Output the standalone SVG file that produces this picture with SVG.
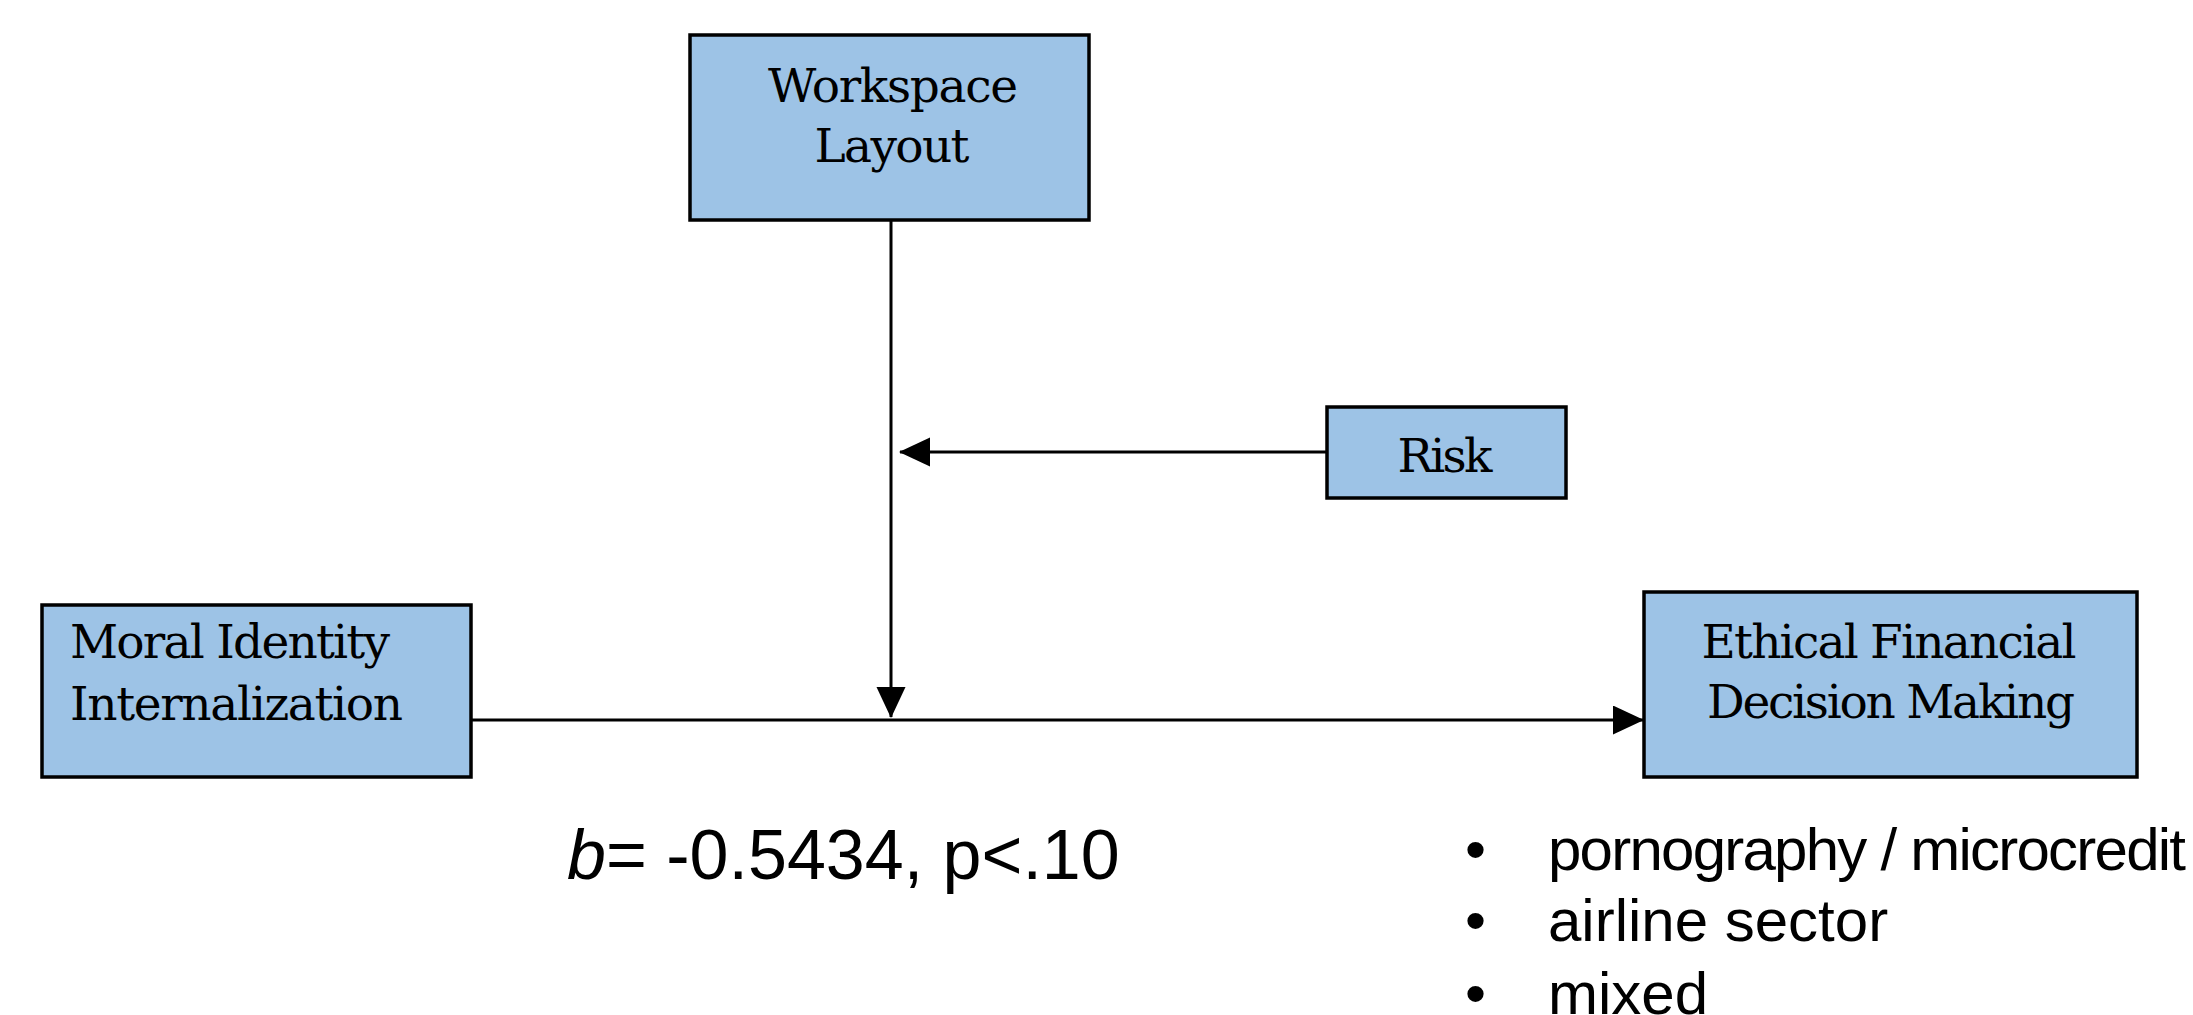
<svg xmlns="http://www.w3.org/2000/svg" width="2193" height="1015" viewBox="0 0 2193 1015">
  <style>
    .box { fill: #9DC3E6; stroke: #000; stroke-width: 3.5; }
    .lbl { font-family: "DejaVu Serif", "Liberation Serif", serif; font-size: 47px; fill: #000; }
    .mid { text-anchor: middle; }
    .conn { stroke: #000; stroke-width: 3; fill: none; }
    .sans { font-family: "Liberation Sans", Arial, sans-serif; fill: #000; }
  </style>
  <defs>
    <marker id="arrow" markerUnits="userSpaceOnUse" markerWidth="32" markerHeight="30" refX="30" refY="14.5" orient="auto">
      <path d="M0,0 L31,14.5 L0,29 Z" fill="#000"/>
    </marker>
  </defs>

  <g id="connectors">
    <line class="conn" x1="891" y1="220" x2="891" y2="717" marker-end="url(#arrow)"/>
    <line class="conn" x1="1327" y1="452" x2="900" y2="452" marker-end="url(#arrow)"/>
    <line class="conn" x1="471" y1="720" x2="1643" y2="720" marker-end="url(#arrow)"/>
  </g>

  <g id="workspace-layout">
    <rect class="box" x="690" y="35" width="399" height="185"/>
    <text class="lbl mid" x="893" y="102" textLength="250" lengthAdjust="spacing">Workspace</text>
    <text class="lbl mid" x="892" y="162" textLength="155" lengthAdjust="spacing">Layout</text>
  </g>

  <g id="risk">
    <rect class="box" x="1327" y="407" width="239" height="91"/>
    <text class="lbl mid" x="1445" y="472" textLength="95" lengthAdjust="spacing">Risk</text>
  </g>

  <g id="moral-identity">
    <rect class="box" x="42" y="605" width="429" height="172"/>
    <text class="lbl" x="70" y="658" textLength="320" lengthAdjust="spacing">Moral Identity</text>
    <text class="lbl" x="70" y="720" textLength="333" lengthAdjust="spacing">Internalization</text>
  </g>

  <g id="ethical-decision">
    <rect class="box" x="1644" y="592" width="493" height="185"/>
    <text class="lbl mid" x="1889" y="658" textLength="375" lengthAdjust="spacing">Ethical Financial</text>
    <text class="lbl mid" x="1891" y="718" textLength="368" lengthAdjust="spacing">Decision Making</text>
  </g>

  <g id="coefficient">
    <text class="sans" x="567" y="879" font-size="70"><tspan font-style="italic">b</tspan>= -0.5434, p&lt;.10</text>
  </g>

  <g id="sectors" class="sans" font-size="60">
    <text x="1465" y="870">•</text>
    <text x="1548" y="870" textLength="638" lengthAdjust="spacing">pornography / microcredit</text>
    <text x="1465" y="941">•</text>
    <text x="1548" y="941">airline sector</text>
    <text x="1465" y="1014">•</text>
    <text x="1548" y="1014">mixed</text>
  </g>
</svg>
